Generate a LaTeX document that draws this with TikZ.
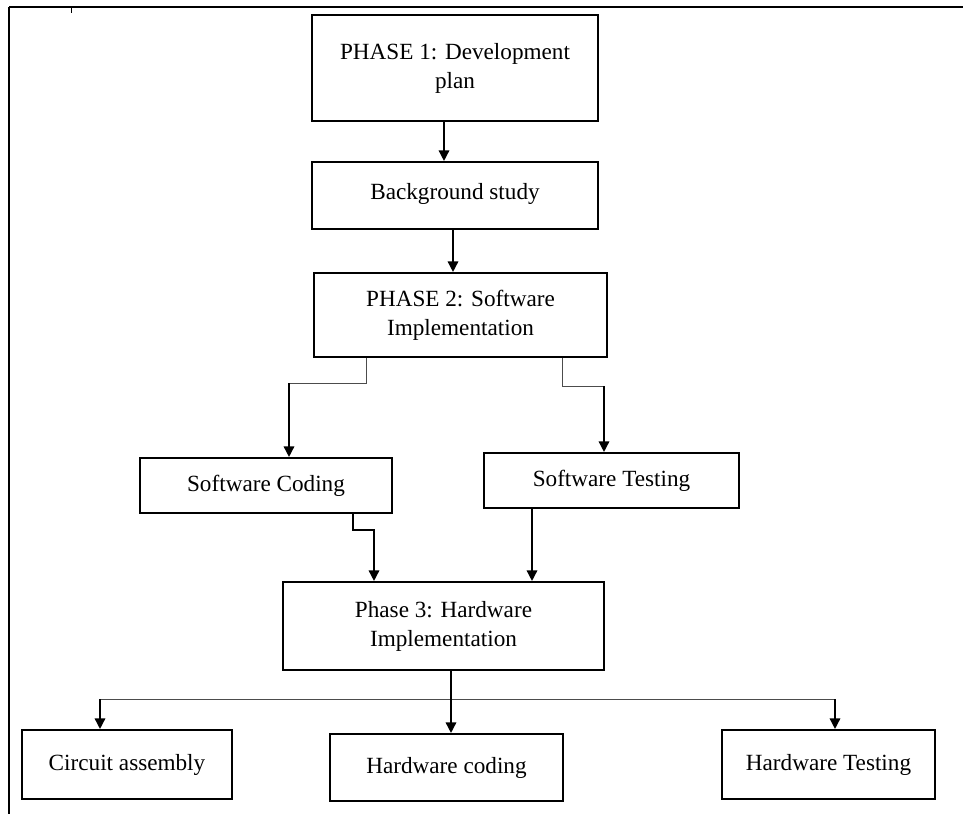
\documentclass[tikz,border=0pt]{standalone}
\usepackage{fontspec}
\setmainfont{Liberation Serif}
\usetikzlibrary{positioning,arrows.meta}

\begin{document}
\begin{tikzpicture}
[x=0.02cm,y=-0.02cm,
box/.style={draw,line width=1.2pt,align=center,inner sep=0pt,font=\fontsize{13.2}{16.5}\selectfont},
arr/.style={-{Triangle[width=6pt,length=6pt]},line width=0.85pt},
feed/.style={draw=black!70,line width=0.55pt}]
\useasboundingbox (0,0) rectangle (963,814);
% page frame
\draw[line width=0.8pt] (9,814) -- (9,7);
\draw[line width=1.6pt] (9,7) -- (963,7);
\draw[line width=0.5pt] (71,7) -- (71,13);
% boxes
\node[box,minimum width=5.72cm,minimum height=2.12cm](p1) at (455,68){PHASE 1: Development\\plan};
\node[box,minimum width=5.72cm,minimum height=1.34cm](bg) at (455,195.5){\raisebox{0.16cm}{Background study}};
\node[box,minimum width=5.86cm,minimum height=1.68cm](p2) at (460.5,315){PHASE 2: Software\\Implementation};
\node[box,minimum width=5.04cm,minimum height=1.1cm](sc) at (266,485.5){Software Coding};
\node[box,minimum width=5.1cm,minimum height=1.1cm](st) at (611.5,480.5){Software Testing};
\node[box,minimum width=6.42cm,minimum height=1.76cm](p3) at (443.5,626){Phase 3: Hardware\\Implementation};
\node[box,minimum width=4.2cm,minimum height=1.38cm](ca) at (127,764.5){Circuit assembly};
\node[box,minimum width=4.66cm,minimum height=1.34cm](hc) at (446.5,767.5){Hardware coding};
\node[box,minimum width=4.26cm,minimum height=1.38cm](ht) at (828.5,764.5){Hardware Testing};
% bends
\coordinate (a1) at (444,0); \coordinate (a2) at (453,0); \coordinate (a3) at (532,0);
\coordinate (k1) at (366,383); \coordinate (k2) at (289,383);
\coordinate (k3) at (562,386); \coordinate (k4) at (604,386);
\coordinate (k5) at (353,530); \coordinate (k6) at (374,530);
\coordinate (bl) at (100,699); \coordinate (bm) at (451,699); \coordinate (br) at (835,699);
% connectors
\draw[arr] (p1.south -| a1) -- (bg.north -| a1);
\draw[arr] (bg.south -| a2) -- (p2.north -| a2);
\draw[feed] (p2.south -| k1) -- (k1) -- (k2); \draw[arr] (k2) -- (sc.north -| k2);
\draw[feed] (p2.south -| k3) -- (k3) -- (k4); \draw[arr] (k4) -- (st.north -| k4);
\draw[arr] (sc.south -| k5) -- (k5) -- (k6) -- (p3.north -| k6);
\draw[arr] (st.south -| a3) -- (p3.north -| a3);
\draw[feed] (bl) -- (br);
\draw[arr] (p3.south -| bm) -- (hc.north -| bm);
\draw[arr] (bl) -- (ca.north -| bl);
\draw[arr] (br) -- (ht.north -| br);
\end{tikzpicture}
\end{document}
